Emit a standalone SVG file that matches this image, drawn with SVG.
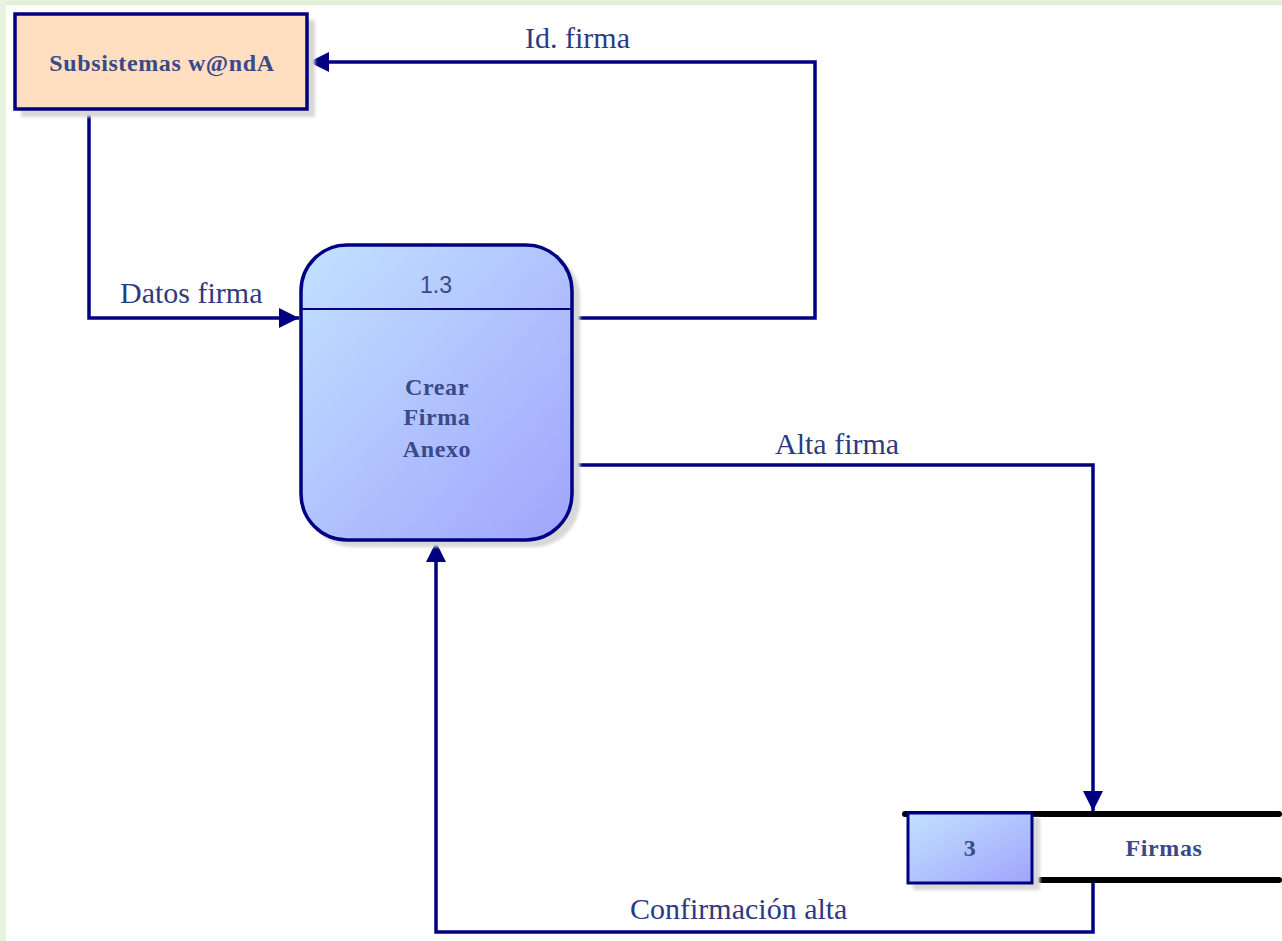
<svg xmlns="http://www.w3.org/2000/svg" width="1282" height="941" viewBox="0 0 1282 941">
<defs>
<linearGradient id="proc" x1="0" y1="0" x2="1" y2="1">
<stop offset="0" stop-color="#C2E2FF"/>
<stop offset="1" stop-color="#A0A4FC"/>
</linearGradient>
<linearGradient id="edge" x1="0" y1="0" x2="0" y2="1">
<stop offset="0" stop-color="#E6F2DC"/>
<stop offset="1" stop-color="#DDEED2"/>
</linearGradient>
<marker id="arr" viewBox="0 0 20 20" refX="20" refY="10" markerWidth="20" markerHeight="20" markerUnits="userSpaceOnUse" orient="auto">
<path d="M0,0 L20,10 L0,20 Z" fill="#000080"/>
</marker>
<filter id="sh" x="-10%" y="-10%" width="130%" height="130%">
<feGaussianBlur stdDeviation="1.5"/>
</filter>
</defs>
<style>
.conn{fill:none;stroke:#000080;stroke-width:3.5}
.lbl{font-family:"Liberation Serif",serif;font-size:30px;fill:#2E3A80}
.nt{font-family:"Liberation Serif",serif;font-size:24px;font-weight:bold;letter-spacing:0.6px;fill:#3A4A88;text-anchor:middle}
.shadow{fill:#D8D8D8;filter:url(#sh)}
.store{stroke:#000;stroke-width:6;stroke-linecap:round}
</style>
<rect width="1282" height="941" fill="#FFFFFF"/>
<rect x="0" y="0" width="1282" height="5" fill="url(#edge)"/>
<rect x="0" y="0" width="6" height="941" fill="#E8F3E0"/>

<g id="connectors">
<polyline class="conn" points="89,109 89,318 299,318" marker-end="url(#arr)"/>
<polyline class="conn" points="572,318 815,318 815,62 309,62" marker-end="url(#arr)"/>
<polyline class="conn" points="572,465 1093,465 1093,811" marker-end="url(#arr)"/>
<polyline class="conn" points="1093,882 1093,932 436,932 436,542" marker-end="url(#arr)"/>
<text class="lbl" x="120" y="303">Datos firma</text>
<text class="lbl" x="525" y="48">Id. firma</text>
<text class="lbl" x="775" y="454">Alta firma</text>
<text class="lbl" x="630" y="919">Confirmación alta</text>
</g>

<g id="subsistemas">
<rect class="shadow" x="21" y="20" width="294" height="97"/>
<rect x="15" y="14" width="292" height="95" fill="#FFDFC0" stroke="#000080" stroke-width="3.5"/>
<text class="nt" x="162" y="71">Subsistemas w@ndA</text>
</g>

<g id="proceso">
<rect class="shadow" x="307" y="251" width="273" height="296" rx="46"/>
<rect x="301" y="245" width="271" height="295" rx="46" fill="url(#proc)" stroke="#000080" stroke-width="3.5"/>
<line x1="301" y1="309" x2="572" y2="309" stroke="#000080" stroke-width="2"/>
<text x="436" y="293" font-family="Liberation Sans,sans-serif" font-size="23" fill="#3A4A88" text-anchor="middle">1.3</text>
<text class="nt" x="437" y="395">Crear</text>
<text class="nt" x="437" y="425">Firma</text>
<text class="nt" x="437" y="457">Anexo</text>
</g>

<g id="almacen">
<line class="store" x1="905" y1="814" x2="1279" y2="814"/>
<line class="store" x1="1040" y1="880" x2="1279" y2="880"/>
<rect class="shadow" x="913" y="818" width="127" height="72"/>
<rect x="908" y="813" width="124" height="70" fill="url(#proc)" stroke="#000080" stroke-width="3"/>
<text class="nt" x="970" y="856">3</text>
<text class="nt" x="1164" y="856">Firmas</text>
</g>
</svg>
